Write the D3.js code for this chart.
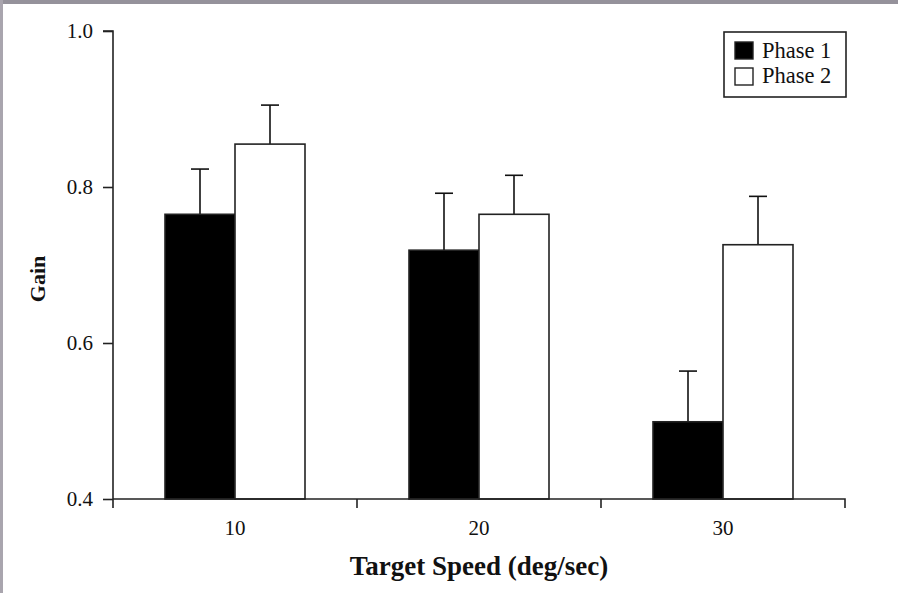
<!DOCTYPE html>
<html>
<head>
<meta charset="utf-8">
<script src="https://cdn.jsdelivr.net/npm/d3@7"></script>
<style>
  html, body { margin: 0; padding: 0; background: #fff; }
  svg { display: block; }
  text { font-family: "Liberation Serif", "Times New Roman", serif; fill: #111; }
</style>
</head>
<body>
<script>
// Mean gain per target speed, with upper error bars, for two phases
const speeds = ["10", "20", "30"];
const phases = ["Phase 1", "Phase 2"];
const phase1Gain = [0.765, 0.719, 0.499];
const phase1Err = [0.058, 0.073, 0.065];
const phase2Gain = [0.855, 0.765, 0.726];
const phase2Err = [0.050, 0.050, 0.062];
const yTicks = [0.4, 0.6, 0.8, 1.0];

const W = 898, H = 593;
const svg = d3.select("body").append("svg").attr("width", W).attr("height", H);

// page frame strips
svg.append("rect").attr("x", 0).attr("y", 0).attr("width", W).attr("height", 4).attr("fill", "#95929b");
svg.append("rect").attr("x", 0).attr("y", 0).attr("width", 3).attr("height", H).attr("fill", "#a9a5ae");

const plotLeft = 113, plotRight = 845, plotTop = 31, plotBottom = 499;

const x = d3.scaleBand().domain(speeds).range([plotLeft, plotRight]).paddingInner(0).paddingOuter(0);
const y = d3.scaleLinear().domain([0.4, 1.0]).range([plotBottom, plotTop]);
const sub = d3.scaleBand().domain(phases).range([0, 140]);
const barOffset = (x.bandwidth() - 140) / 2;

const rows = speeds.map((s, i) => [
  { speed: s, phase: phases[0], v: phase1Gain[i], e: phase1Err[i] },
  { speed: s, phase: phases[1], v: phase2Gain[i], e: phase2Err[i] }
]).flat();

const fills = { "Phase 1": "#000", "Phase 2": "#fff" };

// error bars (upward only)
const eb = svg.append("g").attr("stroke", "#111").attr("stroke-width", 1.6).attr("fill", "none");
rows.forEach(d => {
  const cx = x(d.speed) + barOffset + sub(d.phase) + sub.bandwidth() / 2;
  eb.append("line").attr("x1", cx).attr("x2", cx).attr("y1", y(d.v)).attr("y2", y(d.v + d.e));
  eb.append("line").attr("x1", cx - 9).attr("x2", cx + 9).attr("y1", y(d.v + d.e)).attr("y2", y(d.v + d.e));
});

// bars
svg.append("g").selectAll("rect").data(rows).join("rect")
  .attr("x", d => x(d.speed) + barOffset + sub(d.phase))
  .attr("y", d => y(d.v))
  .attr("width", sub.bandwidth())
  .attr("height", d => y(0.4) - y(d.v))
  .attr("fill", d => fills[d.phase])
  .attr("stroke", "#222").attr("stroke-width", 1.6);

// y axis
const yAxis = svg.append("g").attr("transform", `translate(${plotLeft},0)`)
  .call(d3.axisLeft(y).tickValues(yTicks).tickFormat(d3.format(".1f")).tickSize(10).tickPadding(10));
yAxis.select(".domain").attr("d", `M-10,${plotTop}H0V${plotBottom + 9}`);
yAxis.selectAll("path, line").attr("stroke", "#222").attr("stroke-width", 1.6);
yAxis.selectAll("text").attr("font-size", 21).attr("fill", "#1a1a33");

// x axis
const xAxis = svg.append("g").attr("transform", `translate(0,${plotBottom})`)
  .call(d3.axisBottom(x).tickSize(0).tickPadding(21));
xAxis.select(".domain").attr("d", `M${plotLeft},0H${plotRight}V9`);
xAxis.selectAll("path").attr("stroke", "#222").attr("stroke-width", 1.6);
xAxis.selectAll("text").attr("font-size", 21).attr("fill", "#1a1a33");
// boundary ticks between speed groups
svg.append("g").attr("stroke", "#222").attr("stroke-width", 1.6)
  .selectAll("line").data(speeds.slice(1)).join("line")
  .attr("x1", d => x(d)).attr("x2", d => x(d))
  .attr("y1", plotBottom).attr("y2", plotBottom + 9);

// axis titles
svg.append("text").attr("x", (plotLeft + plotRight) / 2).attr("y", 575)
  .attr("text-anchor", "middle").attr("font-size", 27).attr("font-weight", "bold")
  .text("Target Speed (deg/sec)");
svg.append("text").attr("transform", `translate(45,${(plotTop + plotBottom) / 2 + 14}) rotate(-90)`)
  .attr("text-anchor", "middle").attr("font-size", 22).attr("font-weight", "bold")
  .text("Gain");

// legend
const lg = svg.append("g").attr("transform", "translate(724,32)");
lg.append("rect").attr("width", 122).attr("height", 65).attr("fill", "#fff")
  .attr("stroke", "#222").attr("stroke-width", 1.6);
phases.forEach((p, i) => {
  lg.append("rect").attr("x", 11).attr("y", 10 + i * 26).attr("width", 18).attr("height", 17)
    .attr("fill", fills[p]).attr("stroke", "#222").attr("stroke-width", 1.4);
  lg.append("text").attr("x", 38).attr("y", 26 + i * 25).attr("font-size", 22.5).text(p);
});
</script>
</body>
</html>
